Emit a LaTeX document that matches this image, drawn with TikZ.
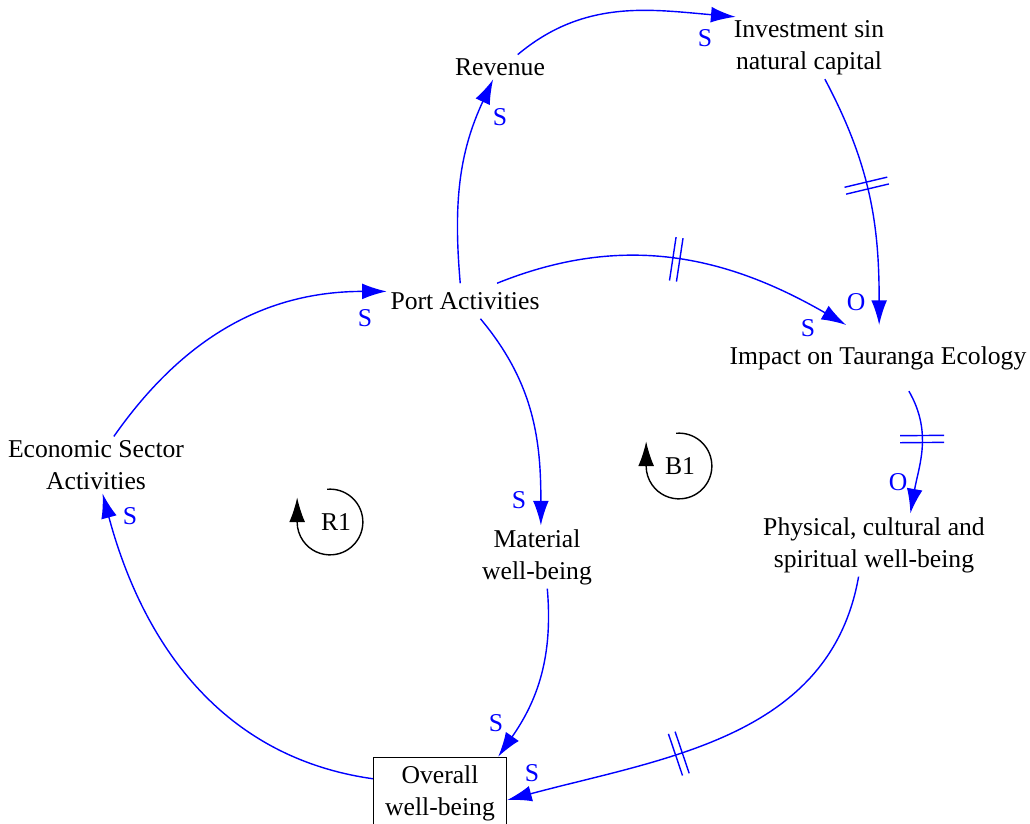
\documentclass[tikz,border=0pt]{standalone}
\usepackage{fontspec}
\setmainfont{Liberation Serif}
\usetikzlibrary{arrows.meta,decorations.markings}

\tikzset{
	var/.style={align=center,inner sep=2pt,font=\fontsize{14.6}{18.3}\selectfont},
	pol/.style={text=blue,inner sep=0pt,font=\fontsize{14.6}{18.3}\selectfont},
	link/.style={draw=blue,thick,-{Latex[length=14pt,width=9pt]}},
	delayed/.style={postaction={decorate},decoration={markings,mark=at position #1 with {\draw[blue,thick,-] (-2pt,-12.5pt)--(-2pt,12.5pt) (2pt,-12.5pt)--(2pt,12.5pt);}}},
	delayed/.default=0.5,
	loopsym/.style={thick,-{Latex[length=14pt,width=9pt]}}
}

\begin{document}
\begin{tikzpicture}[x=0.02cm,y=-0.02cm]
		\useasboundingbox (0,0) rectangle (1030,823);
		% variables
		\node (rev) at (500,67) [var] {Revenue};
		\node (inv) at (809,48) [var] {Investment sin\\natural capital};
		\node (port) at (465,301) [var,inner ysep=5pt] {Port Activities};
		\node (imp) at (878,358) [var,inner ysep=12pt] {Impact on Tauranga Ecology};
		\node (eco) at (96,465) [var] {Economic Sector\\Activities};
		\node (mat) at (537,557) [var] {Material\\well-being};
		\node (phys) at (874,545) [var] {Physical, cultural and\\spiritual well-being};
		\node (ov) at (440,793) [var,draw,inner sep=0pt,minimum width=76pt,minimum height=41pt] {Overall\\well-being};
		
		% links
		\draw[link] (rev.35) to[out=40,in=175] (inv.157);
		\draw[link,delayed=0.45] (inv.-63) to[out=-62,in=90] (imp.88);
		\draw[link] (port.105) to[out=95,in=-115] (rev.-119);
		\draw[link,delayed] (port.29) to[out=22,in=150] (imp.134);
		\draw[link] (eco.58) to[out=55,in=180] (port.173);
		\draw[link] (port.-49) to[out=-50,in=90] (mat.83);
		\draw[link,delayed=0.4] (imp.-47) to[out=-60,in=80] (phys.41);
		\draw[link] (mat.-72) to[out=-85,in=55] (ov.32);
		\draw[link,delayed=0.6] (phys.-116) to[out=-100,in=15] (ov.-6);
		\draw[link] (ov.168) to[out=172,in=-75] (eco.-77);
		
		% polarities
		\node (p1) at (705,38) [pol] {S};
		\node (p2) at (856,302) [pol] {O};
		\node (p3) at (500,117) [pol] {S};
		\node (p4) at (808,328) [pol] {S};
		\node (p5) at (365,318) [pol] {S};
		\node (p6) at (519,500) [pol] {S};
		\node (p7) at (898,482) [pol] {O};
		\node (p8) at (496,723) [pol] {S};
		\node (p9) at (532,773) [pol] {S};
		\node (p10) at (130,516) [pol] {S};
		
		% loops
		\node (r1) at (336,522) [var] {R1};
		\draw[loopsym] (330,522) ++(95:18.7pt) arc[start angle=95,end angle=-180,radius=18.7pt] -- ++(0,14pt);
		\node (b1) at (680,466) [var] {B1};
		\draw[loopsym] (679,466) ++(95:18.7pt) arc[start angle=95,end angle=-180,radius=18.7pt] -- ++(0,14pt);
	\end{tikzpicture}
\end{document}
